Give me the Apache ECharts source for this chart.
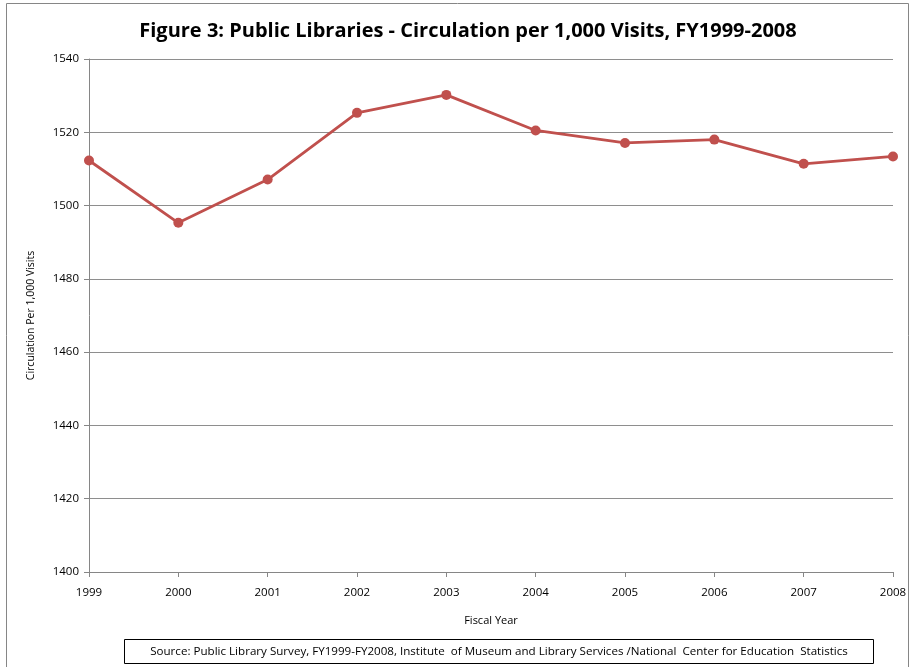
<!DOCTYPE html>
<html><head><meta charset="utf-8">
<script src="https://cdn.jsdelivr.net/npm/echarts@6/dist/echarts.min.js"></script>
<style>html,body{margin:0;padding:0;background:#fff}#c{width:910px;height:667px}</style>
</head><body><div id="c"></div>
<script>
var years = ['1999','2000','2001','2002','2003','2004','2005','2006','2007','2008'];
var circulation = [1512.3, 1495.3, 1507.1, 1525.3, 1530.2, 1520.5, 1517.1, 1518.0, 1511.4, 1513.4];
var titleText = 'Figure 3: Public Libraries - Circulation per 1,000 Visits, FY1999-2008';
var sourceText = 'Source: Public Library Survey, FY1999-FY2008, Institute  of Museum and Library Services /National  Center for Education  Statistics';
var FONT = 'Open Sans';
var chart = echarts.init(document.getElementById('c'));
chart.setOption({
  animation: false,
  title: { text: titleText, left: 463, textAlign: 'center', top: 16,
    textStyle: { fontFamily: FONT, fontWeight: 'bold', fontSize: 20, color: '#000' } },
  grid: { left: 89, right: 17, top: 59, bottom: 95, containLabel: false },
  xAxis: { type: 'category', data: years, boundaryGap: false,
    name: 'Fiscal Year', nameLocation: 'middle', nameGap: 43,
    nameTextStyle: { fontFamily: FONT, fontSize: 11, color: '#000' },
    axisLine: { lineStyle: { color: '#868686' } },
    axisTick: { show: true, length: 5, lineStyle: { color: '#868686' } },
    axisLabel: { fontFamily: FONT, fontSize: 11.5, color: '#000', margin: 15 },
    splitLine: { show: false } },
  yAxis: { type: 'value', min: 1400, max: 1540, interval: 20,
    name: 'Circulation Per 1,000 Visits', nameLocation: 'middle', nameGap: 52, nameRotate: 90,
    nameTextStyle: { fontFamily: FONT, fontSize: 10.5, color: '#000' },
    axisLine: { show: true, lineStyle: { color: '#868686' } },
    axisTick: { show: true, length: 5, lineStyle: { color: '#868686' } },
    axisLabel: { fontFamily: FONT, fontSize: 11.5, color: '#000', margin: 10, formatter: function (v) { return String(v); } },
    splitLine: { lineStyle: { color: '#8e8e8e', width: 1 } } },
  series: [{ type: 'line', data: circulation, symbol: 'circle', symbolSize: 10,
    lineStyle: { color: '#C0504D', width: 2.8 }, itemStyle: { color: '#C0504D' } }],
  graphic: [
    { type: 'rect', shape: { x: 6.5, y: 3.5, width: 902, height: 680 }, style: { fill: 'none', stroke: '#868686', lineWidth: 1 }, silent: true },
    { type: 'rect', shape: { x: 124.5, y: 639.5, width: 749, height: 24 }, style: { fill: '#fff', stroke: '#000', lineWidth: 1 } },
    { type: 'text', x: 499, y: 651.5, style: { text: sourceText, fontFamily: FONT, fontSize: 11.6, fill: '#000', align: 'center', verticalAlign: 'middle' } }
  ]
});
</script></body></html>
